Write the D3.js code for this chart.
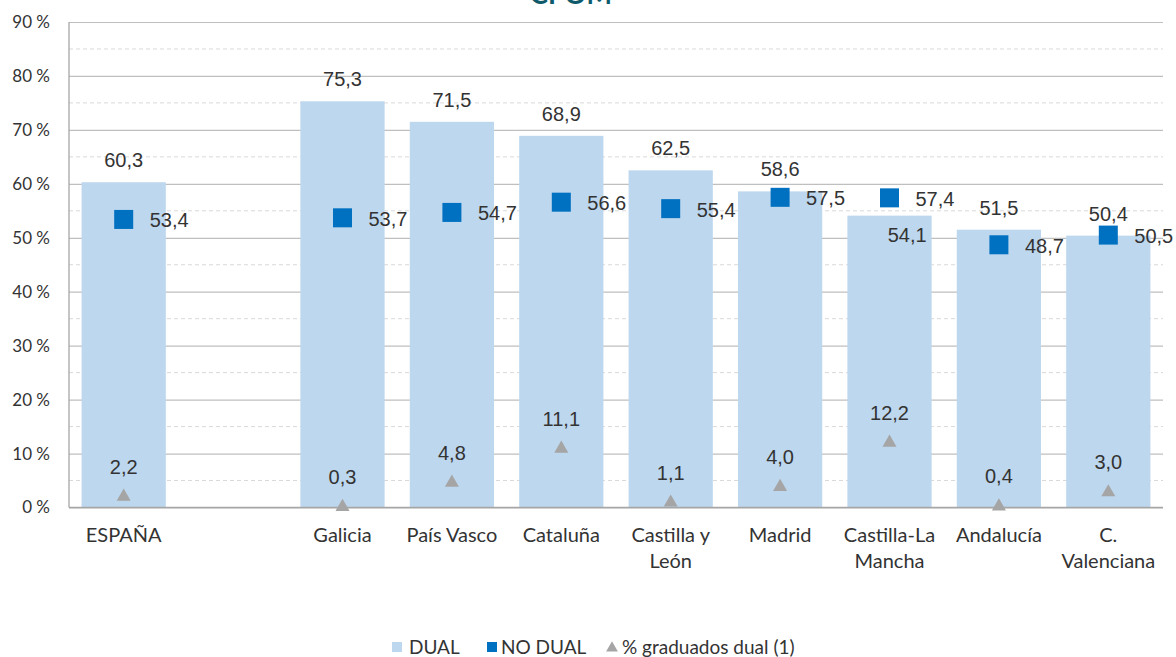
<!DOCTYPE html>
<html>
<head>
<meta charset="utf-8">
<script src="https://cdn.jsdelivr.net/npm/d3@7"></script>
<style>
  html, body { margin: 0; padding: 0; background: #fff; overflow: hidden; }
  svg { display: block; }
</style>
</head>
<body>
<svg id="chart" width="1176" height="657"></svg>
<script>
// Regions (an empty slot separates the national figure from the regions)
const categories = ["ESPAÑA", "", "Galicia", "País Vasco", "Cataluña", "Castilla y\nLeón", "Madrid", "Castilla-La\nMancha", "Andalucía", "C.\nValenciana"];
const regions    = ["ESPAÑA", "Galicia", "País Vasco", "Cataluña", "Castilla y\nLeón", "Madrid", "Castilla-La\nMancha", "Andalucía", "C.\nValenciana"];

// Series values (%)
const dualValues      = [60.3, 75.3, 71.5, 68.9, 62.5, 58.6, 54.1, 51.5, 50.4];
const noDualValues    = [53.4, 53.7, 54.7, 56.6, 55.4, 57.5, 57.4, 48.7, 50.5];
const graduadosValues = [2.2, 0.3, 4.8, 11.1, 1.1, 4.0, 12.2, 0.4, 3.0];

// Y-axis ticks
const yTicks = [0, 10, 20, 30, 40, 50, 60, 70, 80, 90];
const yMinorTicks = [5, 15, 25, 35, 45, 55, 65, 75, 85];

// Legend entries
const legendLabels = ["DUAL", "NO DUAL", "% graduados dual (1)"];

const chartTitle = "CPOM";

// Region whose DUAL label sits inside the bar top, below the NO DUAL marker
const dualLabelInside = new Set(["Castilla-La\nMancha"]);

const colors = { dual: "#bdd7ee", noDual: "#0070c0", grad: "#a5a5a5" };
const fmt = v => d3.format(".1f")(v).replace(".", ",");

const svg = d3.select("#chart");
const margin = { left: 69, right: 1163, top: 22, bottom: 507.5 };

const x = d3.scaleBand()
  .domain(categories)
  .range([margin.left, margin.right])
  .paddingInner(0.23)
  .paddingOuter(0.115);

const y = d3.scaleLinear().domain([0, 90]).range([margin.bottom, margin.top]);

const data = regions.map((r, i) => ({
  region: r,
  dual: dualValues[i],
  noDual: noDualValues[i],
  grad: graduadosValues[i]
}));

const axisFont = "Lato, 'Open Sans', sans-serif";
const valueFont = "'Liberation Sans', Arial, sans-serif";
const textColor = "#333";

// Title (sits at the very top edge)
svg.append("text")
  .attr("x", 571).attr("y", 4)
  .attr("text-anchor", "middle")
  .attr("font-family", axisFont)
  .attr("font-weight", 700)
  .attr("font-size", 27)
  .attr("fill", "#0e5a6b")
  .text(chartTitle);

// Minor dashed gridlines
svg.append("g").selectAll("line")
  .data(yMinorTicks).join("line")
  .attr("x1", margin.left).attr("x2", margin.right)
  .attr("y1", d => y(d)).attr("y2", d => y(d))
  .attr("stroke", "#d9d9d9")
  .attr("stroke-width", 1)
  .attr("stroke-dasharray", "4,3");

// Major gridlines + y-axis labels via d3.axisLeft
const yAxis = d3.axisLeft(y)
  .tickValues(yTicks)
  .tickSize(-(margin.right - margin.left))
  .tickPadding(19)
  .tickFormat(d => d + " %");

const yG = svg.append("g")
  .attr("transform", `translate(${margin.left},0)`)
  .call(yAxis);
yG.select(".domain").remove();
yG.selectAll(".tick line").attr("stroke", "#bfbfbf").attr("stroke-width", 1.2);
yG.selectAll(".tick text")
  .attr("font-family", axisFont)
  .attr("font-size", 17)
  .attr("fill", textColor);

// DUAL bars
svg.append("g").selectAll("rect")
  .data(data).join("rect")
  .attr("x", d => x(d.region))
  .attr("y", d => y(d.dual))
  .attr("width", x.bandwidth())
  .attr("height", d => y(0) - y(d.dual))
  .attr("fill", colors.dual);

// Axis lines
svg.append("line")
  .attr("x1", margin.left).attr("x2", margin.left)
  .attr("y1", margin.top).attr("y2", margin.bottom)
  .attr("stroke", "#a6a6a6").attr("stroke-width", 1.3);
svg.append("line")
  .attr("x1", margin.left).attr("x2", margin.right)
  .attr("y1", y(0)).attr("y2", y(0))
  .attr("stroke", "#a6a6a6").attr("stroke-width", 1.3);

// Category labels (x axis)
const xAxis = d3.axisBottom(x).tickSize(0).tickPadding(0);
const xG = svg.append("g")
  .attr("transform", `translate(0,${y(0)})`)
  .call(xAxis);
xG.select(".domain").remove();
xG.selectAll(".tick text").each(function(d) {
  const t = d3.select(this);
  t.text(null)
    .attr("font-family", axisFont)
    .attr("font-size", 20)
    .attr("fill", textColor)
    .attr("dy", null)
    .attr("y", 34);
  d.split("\n").forEach((line, i) => {
    t.append("tspan")
      .attr("x", 0)
      .attr("dy", i === 0 ? 0 : 26)
      .text(line);
  });
});

const cx = d => x(d.region) + x.bandwidth() / 2;

// DUAL value labels
svg.append("g").selectAll("text")
  .data(data).join("text")
  .attr("x", d => dualLabelInside.has(d.region) ? x(d.region) + x.bandwidth() - 5 : cx(d))
  .attr("y", d => dualLabelInside.has(d.region) ? y(d.dual) + 26 : y(d.dual) - 15)
  .attr("text-anchor", d => dualLabelInside.has(d.region) ? "end" : "middle")
  .attr("font-family", valueFont)
  .attr("font-size", 20)
  .attr("fill", textColor)
  .text(d => fmt(d.dual));

// NO DUAL markers
const sq = 19;
svg.append("g").selectAll("rect")
  .data(data).join("rect")
  .attr("x", d => cx(d) - sq / 2)
  .attr("y", d => y(d.noDual) - sq / 2)
  .attr("width", sq).attr("height", sq)
  .attr("fill", colors.noDual);

svg.append("g").selectAll("text")
  .data(data).join("text")
  .attr("x", d => cx(d) + 26)
  .attr("y", d => y(d.noDual) + 8)
  .attr("font-family", valueFont)
  .attr("font-size", 20)
  .attr("fill", textColor)
  .text(d => fmt(d.noDual));

// % graduados dual markers
const tri = d3.symbol().type(d3.symbolTriangle).size(85);
svg.append("g").selectAll("path")
  .data(data).join("path")
  .attr("d", tri)
  .attr("transform", d => `translate(${cx(d)},${y(d.grad) + 1})`)
  .attr("fill", colors.grad);

svg.append("g").selectAll("text")
  .data(data).join("text")
  .attr("x", d => cx(d))
  .attr("y", d => y(d.grad) - 22)
  .attr("text-anchor", "middle")
  .attr("font-family", valueFont)
  .attr("font-size", 20)
  .attr("fill", textColor)
  .text(d => fmt(d.grad));

// Legend
const legend = svg.append("g").attr("font-family", axisFont).attr("font-size", 19).attr("fill", textColor);
const legendX = [392, 487, 606];
const legendTextX = [409, 501, 622];
const ly = 647;
legend.append("rect").attr("x", legendX[0]).attr("y", ly - 5).attr("width", 10).attr("height", 10).attr("fill", colors.dual);
legend.append("rect").attr("x", legendX[1]).attr("y", ly - 5).attr("width", 10).attr("height", 10).attr("fill", colors.noDual);
legend.append("path")
  .attr("d", d3.symbol().type(d3.symbolTriangle).size(60))
  .attr("transform", `translate(${legendX[2] + 6},${ly + 1})`)
  .attr("fill", colors.grad);
legendLabels.forEach((lab, i) => {
  legend.append("text")
    .attr("x", legendTextX[i])
    .attr("y", ly + 7)
    .text(lab);
});
</script>
</body>
</html>
